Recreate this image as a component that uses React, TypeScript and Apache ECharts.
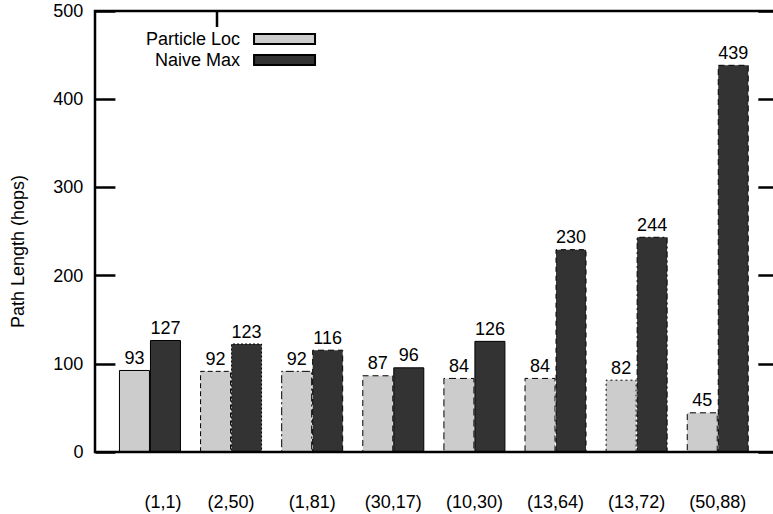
import React, { useEffect, useRef } from "react";
import * as echarts from "echarts";

const categories = ["(1,1)", "(2,50)", "(1,81)", "(30,17)", "(10,30)", "(13,64)", "(13,72)", "(50,88)"];
const particleLoc = [93, 92, 92, 87, 84, 84, 82, 45];
const naiveMax = [127, 123, 116, 96, 126, 230, 244, 439];
const lightBorders: any[] = ["solid", [5, 3], [8, 3, 2, 3], [6, 4], [7, 4], [6, 4], [2, 3], [6, 4]];
const darkBorders: any[] = ["solid", [2, 2], [6, 4], "solid", "solid", [5, 4], [6, 3, 2, 3], [6, 4]];

const FONT = "'Liberation Sans', Arial, sans-serif";

export default function App() {
  const ref = useRef<HTMLDivElement>(null);
  useEffect(() => {
    if (!ref.current) return;
    const chart = echarts.init(ref.current, undefined, { renderer: "svg" });
    const mk = (vals: number[], borders: any[]) =>
      vals.map((v, i) => ({ value: v, itemStyle: { borderType: borders[i] } }));
    chart.setOption({
      animation: false,
      textStyle: { fontFamily: FONT, color: "#000" },
      grid: { left: 109.4, right: 14.7, top: 11, bottom: 62 },
      legend: {
        show: true,
        selectedMode: false,
        orient: "vertical",
        align: "right",
        left: 141,
        top: 25,
        icon: "rect",
        itemWidth: 61,
        itemHeight: 10,
        itemGap: 3,
        textStyle: { fontSize: 18, color: "#000", fontFamily: FONT, width: 99, align: "right", padding: [0, 9, 0, 0] },
        data: ["Particle Loc", "Naive Max"],
      },
      xAxis: {
        type: "category",
        data: categories,
        axisLine: { show: false },
        axisTick: { show: false },
        axisLabel: {
          fontSize: 18,
          color: "#000",
          fontFamily: FONT,
          margin: 41,
          interval: 0,
          formatter: (v: string, i: number) => (i === 0 ? "{a|" + v + "}" : v),
          rich: { a: { fontSize: 18, fontFamily: FONT, color: "#000", padding: [0, 0, 0, 26] } },
        },
      },
      yAxis: [
        {
          type: "value",
          min: 0,
          max: 500,
          interval: 100,
          offset: 14,
          name: "Path Length (hops)",
          nameLocation: "middle",
          nameRotate: 90,
          nameGap: 68,
          nameTextStyle: { fontSize: 18, color: "#000", fontFamily: FONT, padding: [0, 40, 0, 0] },
          axisLine: { show: false },
          axisTick: { show: true, inside: true, length: 20, lineStyle: { color: "#000", width: 2.5 } },
          axisLabel: { fontSize: 18, color: "#000", fontFamily: FONT, margin: 12 },
          splitLine: { show: false },
        },
        {
          type: "value",
          position: "right",
          min: 0,
          max: 500,
          interval: 100,
          offset: 20,
          axisLine: { show: false },
          axisTick: { show: true, inside: true, length: 20, lineStyle: { color: "#000", width: 2.5 } },
          axisLabel: { show: false },
          splitLine: { show: false },
        },
      ],
      series: [
        {
          name: "Particle Loc",
          type: "bar",
          barWidth: 31,
          barGap: "0%",
          data: mk(particleLoc, lightBorders),
          itemStyle: { color: "#cccccc", borderColor: "#000", borderWidth: 1, borderType: "solid" },
          label: { show: true, position: "top", distance: 3, fontSize: 18, color: "#000", fontFamily: FONT },
        },
        {
          name: "Naive Max",
          type: "bar",
          barWidth: 31,
          barGap: "0%",
          data: mk(naiveMax, darkBorders),
          itemStyle: { color: "#333333", borderColor: "#000", borderWidth: 1, borderType: [6, 4] },
          label: { show: true, position: "top", distance: 3, fontSize: 18, color: "#000", fontFamily: FONT },
        },
      ],
      graphic: [
        {
          type: "rect",
          shape: { x: 95, y: 11, width: 683, height: 441 },
          style: { fill: "none", stroke: "#000", lineWidth: 2.5 },
          z: 100,
        },
        {
          type: "line",
          shape: { x1: 217, y1: 11, x2: 217, y2: 27 },
          style: { stroke: "#000", lineWidth: 2.5 },
          z: 100,
        },
      ],
    });
    return () => chart.dispose();
  }, []);
  return <div ref={ref} style={{ width: 773, height: 514, position: "absolute", left: 0, top: 0 }} />;
}
